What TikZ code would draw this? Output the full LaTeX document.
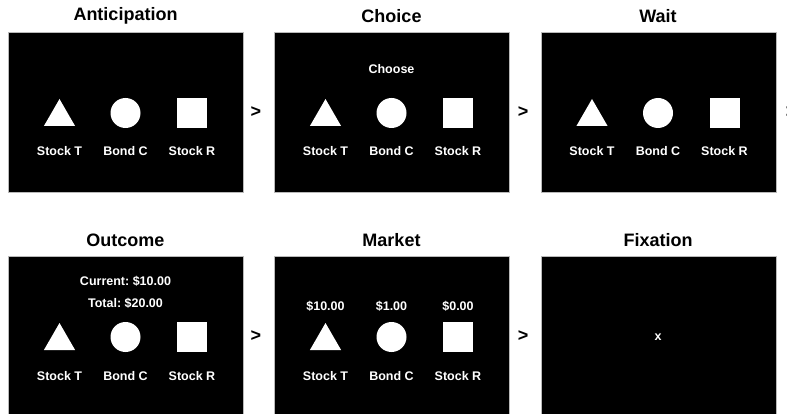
\documentclass[tikz,border=0pt]{standalone}
\usepackage{fontspec}
\setmainfont{Liberation Sans}
\usetikzlibrary{shapes.geometric}
\begin{document}
\begin{tikzpicture}[x=1pt,y=-1pt,
  panel/.style={fill=black,draw=gray!55,line width=0.6pt},
  title/.style={font=\fontsize{18}{20}\selectfont\bfseries,text=black,inner sep=0pt},
  lbl/.style={font=\fontsize{12.5}{14}\selectfont\bfseries,text=white,inner sep=0pt},
  sep/.style={font=\fontsize{18}{20}\selectfont\bfseries,text=black,inner sep=0pt},
  tri/.style={regular polygon,regular polygon sides=3,minimum size=36pt,inner sep=0pt,fill=white},
  circ/.style={circle,minimum size=30pt,inner sep=0pt,fill=white},
  sq/.style={rectangle,minimum size=30pt,inner sep=0pt,fill=white}]
\useasboundingbox[fill=white] (0,0) rectangle (787,414);
% panels
\foreach \x/\ya/\yb in {8/32/192,274/32/192,541/32/192,8/256/414,274/256/414,541/256/414}{
  \path[panel] (\x,\ya) rectangle ++(235,\yb-\ya);
}
% titles
\node[title] (t1) at (125.5,16) {Anticipation};
\node[title] (t2) at (391.5,16) {Choice};
\node[title] (t3) at (658,16) {Wait};
\node[title] (t4) at (125.5,240) {Outcome};
\node[title] (t5) at (391.5,240) {Market};
\node[title] (t6) at (658,240) {Fixation};
% top row stimuli
\foreach \c/\k in {125.5/a,391.5/b,658/c}{
  \node[tri] (tri\k) at (\c-66,117) {};
  \node[circ] (cir\k) at (\c,113) {};
  \node[sq] (sq\k) at (\c+66.5,113) {};
  \node[lbl] (lt\k) at (\c-66,151) {Stock T};
  \node[lbl] (lc\k) at (\c,151) {Bond C};
  \node[lbl] (lr\k) at (\c+66.5,151) {Stock R};
}
\node[lbl] (choose) at (391.5,69) {Choose};
% bottom row stimuli
\foreach \c/\k in {125.5/d,391.5/e}{
  \node[tri] (tri\k) at (\c-66,341) {};
  \node[circ] (cir\k) at (\c,337) {};
  \node[sq] (sq\k) at (\c+66.5,337) {};
  \node[lbl] (lt\k) at (\c-66,376) {Stock T};
  \node[lbl] (lc\k) at (\c,376) {Bond C};
  \node[lbl] (lr\k) at (\c+66.5,376) {Stock R};
}
\node[lbl] (cur) at (125.5,281) {Current:~\$10.00};
\node[lbl] (tot) at (125.5,303) {Total:~\$20.00};
\node[lbl] (pT) at (325.5,306) {\$10.00};
\node[lbl] (pC) at (391.5,306) {\$1.00};
\node[lbl] (pR) at (458,306) {\$0.00};
\node[lbl] (fix) at (658,337) {x};
% separators
\node[sep] (s1) at (256,112) {>};
\node[sep] (s2) at (523,112) {>};
\node[sep] (s3) at (791,112) {>};
\node[sep] (s4) at (256,336) {>};
\node[sep] (s5) at (523,336) {>};
\end{tikzpicture}
\end{document}
